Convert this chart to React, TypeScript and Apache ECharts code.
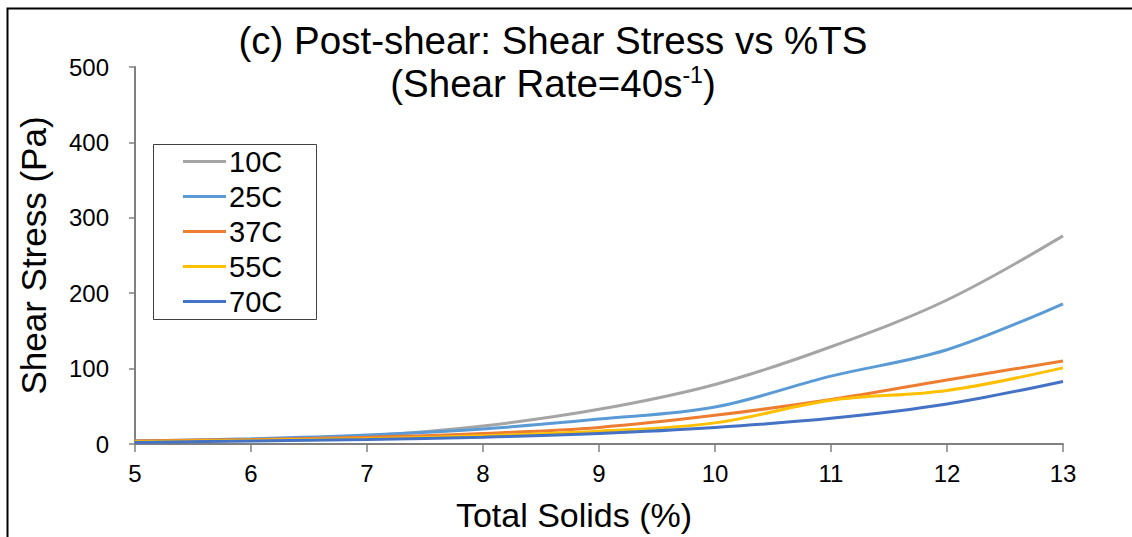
import React, { useEffect, useRef } from "react";
import * as echarts from "echarts";

const totalSolids = [5, 6, 7, 8, 9, 10, 11, 12, 13];
const s10C = [4, 6, 11, 24, 46, 79, 129, 191, 276];
const s25C = [4, 7, 12, 20, 33, 49, 90, 125, 186];
const s37C = [4, 6, 9, 14, 22, 38, 59, 85, 110];
const s55C = [3, 5, 7, 11, 17, 28, 58, 71, 101];
const s70C = [2, 4, 6, 9, 14, 22, 34, 53, 83];
const seriesNames = ["10C", "25C", "37C", "55C", "70C"];
const seriesColors = ["#A5A5A5", "#5B9BD5", "#ED7D31", "#FFC000", "#4472C4"];
const seriesValues = [s10C, s25C, s37C, s55C, s70C];
const titleLine1 = "(c) Post-shear: Shear Stress vs %TS";

const FONT = "Liberation Sans, Arial, sans-serif";

export default function App() {
  const ref = useRef<HTMLDivElement>(null);
  useEffect(() => {
    if (!ref.current) return;
    const chart = echarts.init(ref.current, null, { renderer: "svg" });
    chart.setOption({
      animation: false,
      backgroundColor: "#ffffff",
      textStyle: { fontFamily: FONT },
      graphic: [
        {
          type: "rect",
          shape: { x: 7.5, y: 8.5, width: 1140, height: 540 },
          style: { fill: "none", stroke: "#000", lineWidth: 2 },
          silent: true,
        },
        {
          type: "text",
          x: 553,
          y: 40,
          style: {
            text: titleLine1,
            fontSize: 38.5,
            fontFamily: FONT,
            fill: "#000",
            align: "center",
            verticalAlign: "middle",
          },
          silent: true,
        },
        {
          type: "text",
          x: 553,
          y: 83,
          style: {
            text: "{a|(Shear Rate=40s}{sup|-1}{a|)}",
            fontFamily: FONT,
            fill: "#000",
            align: "center",
            verticalAlign: "middle",
            rich: {
              a: { fontSize: 38.5, fontFamily: FONT, fill: "#000", lineHeight: 40 },
              sup: { fontSize: 23, fontFamily: FONT, fill: "#000", lineHeight: 40, verticalAlign: "top", padding: [0, 0, 16, 0] },
            },
          },
          silent: true,
        },
        {
          type: "rect",
          shape: { x: 153.5, y: 144.5, width: 163, height: 175 },
          style: { fill: "none", stroke: "#404040", lineWidth: 1 },
          silent: true,
          z: 10,
        },
      ],
      legend: {
        orient: "vertical",
        left: 153,
        top: 144,
        padding: [3, 33, 3, 30],
        itemGap: 6,
        itemWidth: 43,
        itemHeight: 3,
        icon: "rect",
        data: seriesNames,
        textStyle: { fontSize: 29, lineHeight: 29, color: "#000", fontFamily: FONT, padding: [0, 0, 0, -2] },
      },
      grid: { left: 135, right: 69, top: 67, bottom: 89 },
      xAxis: {
        type: "value",
        min: 5,
        max: 13,
        interval: 1,
        name: "Total Solids (%)",
        nameLocation: "middle",
        nameGap: 54,
        nameTextStyle: { fontSize: 34, color: "#000", fontFamily: FONT, padding: [0, 50, 0, 0] },
        axisLine: { lineStyle: { color: "#808080", width: 2 } },
        axisTick: { show: true, length: 8, lineStyle: { color: "#808080", width: 1.5 } },
        axisLabel: { fontSize: 24, color: "#000", margin: 17, fontFamily: FONT },
        splitLine: { show: false },
      },
      yAxis: {
        type: "value",
        min: 0,
        max: 500,
        interval: 100,
        name: "Shear Stress (Pa)",
        nameLocation: "middle",
        nameGap: 84,
        nameTextStyle: { fontSize: 35, color: "#000", fontFamily: FONT },
        axisLine: { show: true, lineStyle: { color: "#808080", width: 2 } },
        axisTick: { show: true, length: 6, lineStyle: { color: "#808080", width: 1.5 } },
        axisLabel: { fontSize: 24, color: "#000", margin: 26, fontFamily: FONT },
        splitLine: { show: false },
      },
      series: seriesNames.map((name, i) => ({
        name,
        type: "line",
        smooth: 0.35,
        showSymbol: false,
        symbol: "none",
        color: seriesColors[i],
        lineStyle: { width: 3, color: seriesColors[i] },
        data: totalSolids.map((x, j) => [x, seriesValues[i][j]]),
      })),
    });
    return () => chart.dispose();
  }, []);
  return <div ref={ref} style={{ width: 1132, height: 537, position: "absolute", left: 0, top: 0 }} />;
}
